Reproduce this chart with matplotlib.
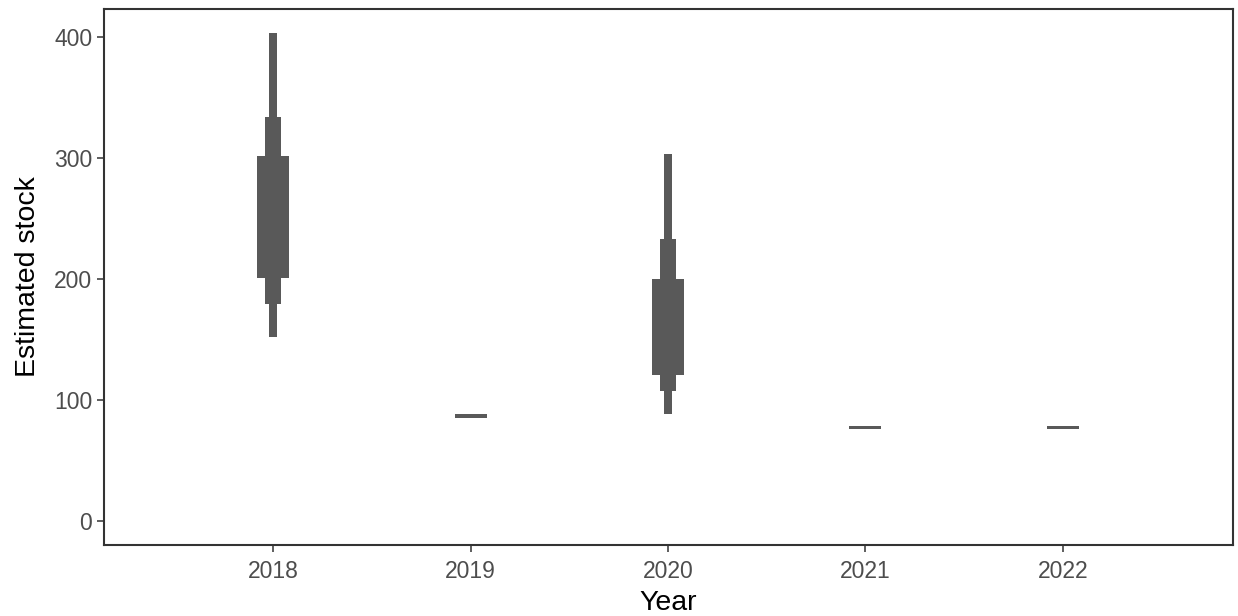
import numpy as np
import matplotlib
matplotlib.use('Agg')
from matplotlib import pyplot as plt

plt.rcParams['font.family'] = ['Liberation Sans', 'DejaVu Sans']

# interval estimates of the stock per year (95%, 80%, 50%)
years = [2018, 2019, 2020, 2021, 2022]
lo95 = [151.5, 85.3, 88.4, 75.6, 75.6]
hi95 = [403.3, 87.8, 303.3, 78.0, 78.0]
lo80 = [179.3, 85.3, 106.9, 75.6, 75.6]
hi80 = [333.9, 87.8, 233.0, 78.0, 78.0]
lo50 = [201.0, 85.3, 120.7, 75.6, 75.6]
hi50 = [301.7, 87.8, 200.0, 78.0, 78.0]

barCol = '#595959'
edgeCol = '#333333'
txtCol = '#4d4d4d'

fig = plt.figure(figsize=(12.38, 6.16), dpi=100)
ax = fig.add_axes([104/1238, 1-545/616, (1233-104)/1238, (545-9)/616])

# widest line = innermost interval
for lo, hi, lw in [(lo95, hi95, 5.76), (lo80, hi80, 11.52), (lo50, hi50, 23.04)]:
    ax.vlines(years, lo, hi, colors=barCol, linewidth=lw, capstyle='butt')

ax.set_xlim(2017.144, 2022.861)
ax.set_ylim(-20.15, 423.2)
ax.set_xticks(years)
ax.set_yticks([0, 100, 200, 300, 400])

for s in ax.spines.values():
    s.set_color(edgeCol)
    s.set_linewidth(1.5)
ax.tick_params(length=5, width=1.1, color=edgeCol, labelcolor=txtCol,
               labelsize=16.5)
ax.tick_params(axis='x', pad=6)

ax.set_xlabel('Year', fontsize=20.5, color='black', labelpad=5)
ax.set_ylabel('Estimated stock', fontsize=20.5, color='black', labelpad=9)

fig.savefig('out.png', dpi=100)
